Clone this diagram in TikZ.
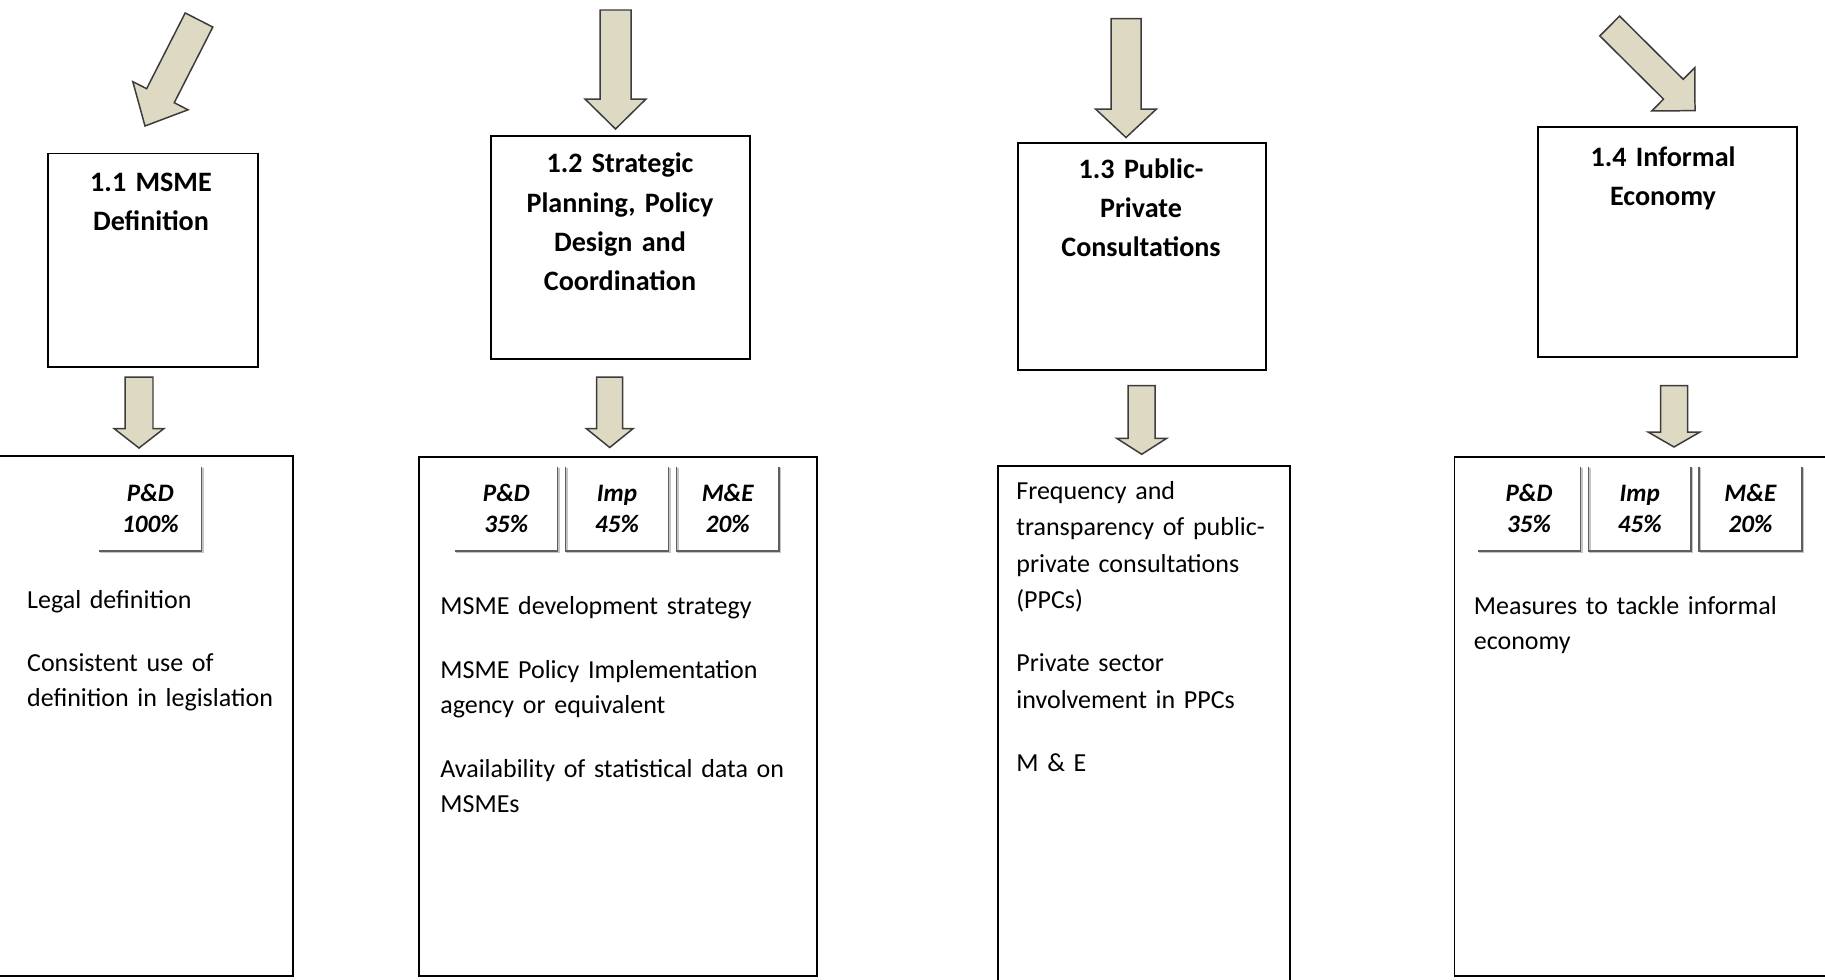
\documentclass[tikz,border=0pt]{standalone}
\usepackage{fontspec}
\setmainfont{Carlito}
\usepackage{tikz}
\usetikzlibrary{positioning,calc}

\definecolor{arrowfill}{HTML}{DDD9C3}
\definecolor{arrowline}{HTML}{3C3C3C}
\definecolor{tabline}{HTML}{5E5E5E}
\definecolor{tabshade}{HTML}{C4C4C4}

% block arrow: tail, tip, shaft half width, head half width, head length
\newcommand{\blockarrow}[5]{%
  \coordinate (ah) at ($(#2)!#5!(#1)$);
  \draw[blockarr] ($(#1)!#3!90:(#2)$) -- ($(ah)!#3!-90:(#1)$) -- ($(ah)!#4!-90:(#1)$)
    -- (#2) -- ($(ah)!#4!90:(#1)$) -- ($(ah)!#3!90:(#1)$) -- ($(#1)!#3!-90:(#2)$) -- cycle;}

\begin{document}
\begin{tikzpicture}[x=0.02cm, y=-0.02cm, node distance=0.16cm,
    box/.style={draw=black, line width=1.1pt, inner sep=0pt},
    head/.style={anchor=base, text width=4.6cm, align=center, inner sep=0pt,
      font=\bfseries\fontsize{16}{22.2}\selectfont},
    item/.style={anchor=base west, text width=7cm, align=left, inner sep=0pt,
      font=\fontsize{14.8}{19.9}\selectfont},
    tab/.style={minimum width=2.04cm, minimum height=1.67cm, inner sep=0pt, align=center,
      font=\bfseries\itshape\fontsize{14.3}{17.6}\selectfont},
    tabedge/.style={draw=tabline, line width=0.9pt,
      preaction={draw=tabshade, line width=0.9pt, transform canvas={xshift=0.8pt, yshift=-0.8pt}}},
    blockarr/.style={draw=arrowline, fill=arrowfill, line width=0.85pt, line join=miter}]

  \useasboundingbox (0,0) rectangle (1825,980);
  \clip (0,0) rectangle (1825,980);

  % the four areas
  \node[box, minimum width=4.21cm, minimum height=4.28cm, anchor=north west] (msme) at (46.6,152.5) {};
  \node[box, minimum width=5.19cm, minimum height=4.46cm, anchor=north west] (plan) at (490,135) {};
  \node[box, minimum width=4.95cm, minimum height=4.54cm, anchor=north west] (ppc) at (1017.3,141.8) {};
  \node[box, minimum width=5.19cm, minimum height=4.61cm, anchor=north west] (inf) at (1536.7,125.7) {};

  \node[head] (msmehead) at (151,191) {1.1 MSME\\Definition};
  \node[head] (planhead) at (620,173) {1.2 Strategic\\Planning, Policy\\Design and\\Coordination};
  \node[head] (ppchead) at (1141,178.6) {1.3 Public-\\Private\\Consultations};
  \node[head] (infhead) at (1663,166) {1.4 Informal\\Economy};

  % indicator boxes
  \node[box, minimum width=6.24cm, minimum height=10.4cm, anchor=north west] (defbox) at (-20,455) {};
  \node[box, minimum width=7.97cm, minimum height=10.38cm, anchor=north west] (planbox) at (418,456) {};
  \node[box, minimum width=5.84cm, minimum height=11cm, anchor=north west] (ppcbox) at (997,465) {};
  \node[box, minimum width=8cm, minimum height=10.38cm, anchor=north west] (infbox) at (1453.5,456) {};

  % weights
  \node[tab, anchor=north west] (pd1) at (99,466.7) {P\&D\\100\%};

  \node[tab, anchor=north west] (pd2) at (455,466.7) {P\&D\\35\%};
  \node[tab, right=of pd2] (imp2) {Imp\\45\%};
  \node[tab, right=of imp2] (me2) {M\&E\\20\%};

  \node[tab, anchor=north west] (pd4) at (1477.7,466.7) {P\&D\\35\%};
  \node[tab, right=of pd4] (imp4) {Imp\\45\%};
  \node[tab, right=of imp4] (me4) {M\&E\\20\%};

  \draw[tabedge] (pd1.north east) -- (pd1.south east) -- (pd1.south west);
  \draw[tabedge] (pd2.north east) -- (pd2.south east) -- (pd2.south west);
  \draw[tabedge] (imp2.north west) -- (imp2.south west) -- (imp2.south east) -- (imp2.north east);
  \draw[tabedge] (me2.north west) -- (me2.south west) -- (me2.south east) -- (me2.north east);
  \draw[tabedge] (pd4.north east) -- (pd4.south east) -- (pd4.south west);
  \draw[tabedge] (imp4.north west) -- (imp4.south west) -- (imp4.south east) -- (imp4.north east);
  \draw[tabedge] (me4.north west) -- (me4.south west) -- (me4.south east) -- (me4.north east);

  % indicators
  \node[item] (defitems) at (26.8,608.7) {Legal definition\\[16pt]Consistent use of\\definition in legislation};
  \node[item] (planitems) at (440,614.6) {MSME development strategy\\[16.5pt]MSME Policy Implementation\\agency or equivalent\\[16.5pt]Availability of statistical data on\\MSMEs};
  \node[item, font=\fontsize{14.8}{20.8}\selectfont] (ppcitems) at (1016,499.3) {Frequency and\\transparency of public-\\private consultations\\(PPCs)\\[15pt]Private sector\\involvement in PPCs\\[15pt]M \& E};
  \node[item] (infitems) at (1473.5,614.6) {Measures to tackle informal\\economy};

  % arrows into the areas
  \coordinate (a1tail) at (199,20);
  \coordinate (a1tip) at (145,126);
  \coordinate (a2tail) at (615.5,10);
  \coordinate (a2tip) at (615.5,129);
  \coordinate (a3tail) at (1126,18.6);
  \coordinate (a3tip) at (1126,137.5);
  \coordinate (a4tail) at (1609.7,26);
  \coordinate (a4tip) at (1695,110.7);
  \blockarrow{a1tail}{a1tip}{0.31cm}{0.62cm}{0.68cm}
  \blockarrow{a2tail}{a2tip}{0.31cm}{0.61cm}{0.60cm}
  \blockarrow{a3tail}{a3tip}{0.30cm}{0.61cm}{0.57cm}
  \blockarrow{a4tail}{a4tip}{0.28cm}{0.61cm}{0.61cm}

  % arrows down to the indicators
  \coordinate (d1tail) at (139,377);
  \coordinate (d1tip) at (139,448);
  \coordinate (d2tail) at (609.7,377);
  \coordinate (d2tip) at (609.7,447.5);
  \coordinate (d3tail) at (1141.7,385.7);
  \coordinate (d3tip) at (1141.7,454.3);
  \coordinate (d4tail) at (1674,385.7);
  \coordinate (d4tip) at (1674,447);
  \blockarrow{d1tail}{d1tip}{0.28cm}{0.50cm}{0.39cm}
  \blockarrow{d2tail}{d2tip}{0.26cm}{0.47cm}{0.38cm}
  \blockarrow{d3tail}{d3tip}{0.27cm}{0.50cm}{0.32cm}
  \blockarrow{d4tail}{d4tip}{0.27cm}{0.52cm}{0.30cm}
\end{tikzpicture}
\end{document}
